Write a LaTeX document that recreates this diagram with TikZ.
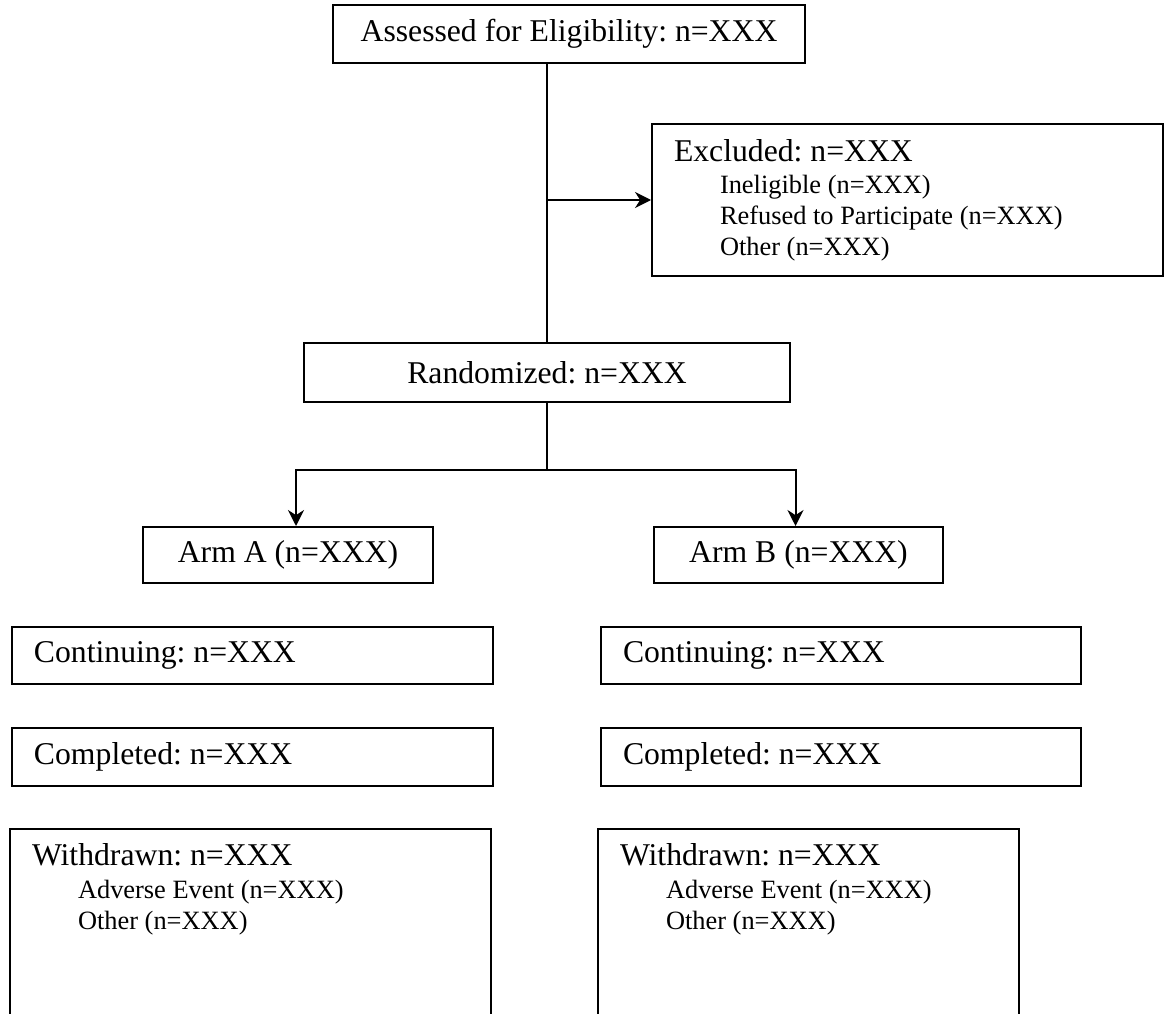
\documentclass[tikz,border=0pt]{standalone}
\usepackage{fontspec}
\setmainfont{Liberation Serif}
\usepackage{tikz}
\usetikzlibrary{shapes,arrows.meta,positioning}
\frenchspacing
\newcommand{\grande}{\fontsize{31.7pt}{36pt}\selectfont}
\newcommand{\chica}{\fontsize{26.4pt}{31pt}\selectfont}
\newcommand{\sangria}{\hspace*{46pt}}
\tikzstyle{caja} = [draw, line width=2pt, rectangle, inner sep=0pt, font=\grande]
\tikzstyle{cajalista} = [caja, align=flush left, inner xsep=22pt]
\tikzstyle{flecha} = [line width=2pt, -{Stealth[length=16pt,width=16pt]}]
\tikzstyle{linea} = [line width=2pt]

\begin{document}
\begin{tikzpicture}[x=1pt,y=-1pt]
	\useasboundingbox (0,0) rectangle (1168,1014);
	% cabecera
	\node[caja, minimum width=472pt, minimum height=58pt] (evaluados) at (569,34) {Assessed for Eligibility: n=XXX};
	\node[cajalista, anchor=north west, text width=467pt, minimum height=152pt] (excluidos) at (651,123) {%
		Excluded: n=XXX\\[1pt]
		\chica\sangria Ineligible (n=XXX)\\
		\sangria Refused to Participate (n=XXX)\\
		\sangria Other (n=XXX)\par};
	\node[caja, minimum width=486pt, minimum height=59pt] (aleatorio) at (547,372.5) {Randomized: n=XXX};
	% brazos
	\node[caja, minimum width=290pt, minimum height=56pt] (brazoA) at (288,555) {Arm A (n=XXX)};
	\node[caja, minimum width=289pt, minimum height=56pt] (brazoB) at (798.5,555) {Arm B (n=XXX)};
	% columna A
	\node[cajalista, anchor=north west, text width=437pt, minimum height=57pt] (continuaA) at (11,626) {Continuing: n=XXX};
	\node[cajalista, below=42pt of continuaA.south west, anchor=north west, text width=437pt, minimum height=58pt] (completaA) {Completed: n=XXX};
	\node[cajalista, below=41pt of completaA.south west, anchor=north west, xshift=-2pt, text width=437pt, inner ysep=14pt, text depth=250pt] (retiradoA) {%
		Withdrawn: n=XXX\\[2pt]
		\chica\sangria Adverse Event (n=XXX)\\
		\sangria Other (n=XXX)\par};
	% columna B
	\node[cajalista, anchor=north west, text width=436pt, minimum height=57pt] (continuaB) at (600,626) {Continuing: n=XXX};
	\node[cajalista, below=42pt of continuaB.south west, anchor=north west, text width=436pt, minimum height=58pt] (completaB) {Completed: n=XXX};
	\node[cajalista, below=41pt of completaB.south west, anchor=north west, xshift=-3pt, text width=377pt, inner ysep=14pt, text depth=250pt] (retiradoB) {%
		Withdrawn: n=XXX\\[2pt]
		\chica\sangria Adverse Event (n=XXX)\\
		\sangria Other (n=XXX)\par};
	% conectores
	\draw[linea] (aleatorio.north |- evaluados.south) -- (aleatorio.north);
	\draw[flecha] (aleatorio.north |- excluidos.west) -- (excluidos.west);
	\coordinate (rama) at ([yshift=-67pt]aleatorio.south);
	\draw[linea] (aleatorio.south) -- (rama);
	\draw[flecha] (rama) -| ([xshift=8pt]brazoA.north);
	\draw[flecha] (rama) -| ([xshift=-3pt]brazoB.north);
\end{tikzpicture}
\end{document}
